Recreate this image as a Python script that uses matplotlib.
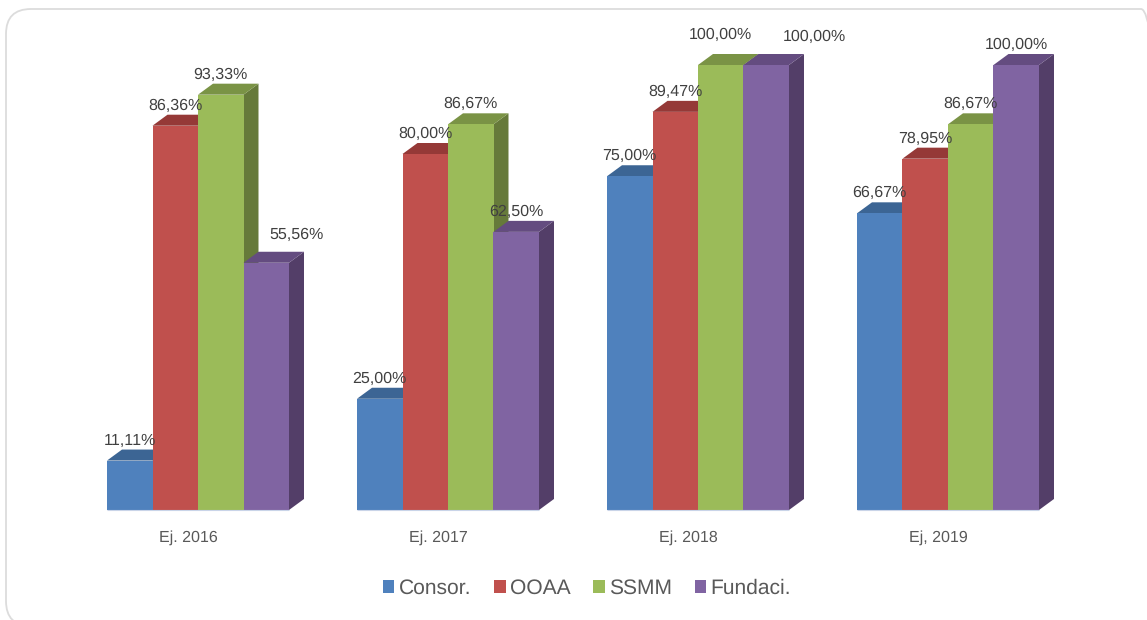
import matplotlib
matplotlib.use("Agg")
import matplotlib.pyplot as pl
import numpy as np
from matplotlib.patches import FancyBboxPatch, Patch, Polygon

pl.rcParams["font.family"] = ["Liberation Sans", "DejaVu Sans"]
pl.rcParams["text.hinting"] = "no_hinting"
pl.rcParams["text.hinting_factor"] = 1

# data
years = ["Ej. 2016", "Ej. 2017", "Ej. 2018", "Ej, 2019"]
names = ["Consor.", "OOAA", "SSMM", "Fundaci."]
consor = [11.11, 25.00, 75.00, 66.67]
ooaa = [86.36, 80.00, 89.47, 78.95]
ssmm = [93.33, 86.67, 100.00, 86.67]
fundaci = [55.56, 62.50, 100.00, 100.00]

# front, top, side
colours = [("#4F81BD", "#3C6594", "#39608D"),
           ("#C0504D", "#953937", "#8C3836"),
           ("#9BBB59", "#7A9345", "#667A3A"),
           ("#8064A2", "#644C80", "#533E68")]

W, H = 1147, 620
fig = pl.figure(figsize=(W/100, H/100), dpi=100)
fig.patch.set_facecolor("white")

# outer frame of the chart, in pixels
frame = FancyBboxPatch((6, -6), 1160, 617, boxstyle="round,pad=0,rounding_size=25",
                       mutation_scale=1, transform=None, fc="none", ec="#DCDCDC", lw=1.3, zorder=-1)
fig.add_artist(frame)

# axes fill the figure, scale: 250 px per group, 4.45 px per percent
ax = fig.add_axes([0, 0, 1, 1])
ax.set_xlim(-198/250, (W-198)/250)
ax.set_ylim(-110/4.45, 510/4.45)
ax.axis("off")

bar_w = 45.5/250
dx = 15/250   # depth of the fake 3d
dy = 11/4.45
x = np.arange(len(years))

for j, vals in enumerate([consor, ooaa, ssmm, fundaci]):
    front, top, side = colours[j]
    for i, v in enumerate(vals):
        x0 = x[i] + (j-2)*bar_w
        x1 = x0 + bar_w
        z = 2 + j
        ax.add_patch(Polygon([(x1, 0), (x1+dx, dy), (x1+dx, v+dy), (x1, v)], fc=side, ec="none", zorder=z))
        ax.add_patch(Polygon([(x0, v), (x0+dx, v+dy), (x1+dx, v+dy), (x1, v)], fc=top, ec="none", zorder=z))
        ax.bar(x0, v, bar_w, align="edge", color=front, lw=0, zorder=z)

# light base line under each group
for i in x:
    ax.plot([i-2*bar_w, i+2*bar_w], [0, 0], color="#C9D4E8", lw=0.8, zorder=7, solid_capstyle="butt")

# value labels, some of them do not sit right on top of the bar
for j, vals in enumerate([consor, ooaa, ssmm, fundaci]):
    for i, v in enumerate(vals):
        xc = x[i] + (j-1.5)*bar_w
        ox, oy = 0, 20
        if j == 3 and i == 0:
            ox, oy = 30, 28
        if j == 3 and i == 2:
            ox, oy = 48, 28
        if j == 2 and i == 2:
            oy = 30
        ax.annotate(("%.2f" % v).replace(".", ",") + "%", (xc, v),
                    xytext=(ox*0.72, oy*0.72), textcoords="offset points",
                    ha="center", va="center", fontsize=11.3, color="#404040", zorder=10)

# category labels
for i, name in enumerate(years):
    ax.annotate(name, (x[i], 0), xytext=(-10*0.72, -28*0.72), textcoords="offset points",
                ha="center", va="center", fontsize=11.3, color="#595959", zorder=10)

handles = [Patch(fc=colours[j][0], ec="none", label=names[j]) for j in range(4)]
ax.legend(handles=handles, loc="center", bbox_to_anchor=(587/W, 1-588.5/H), ncol=4, frameon=False,
          fontsize=15.0, labelcolor="#595959", handlelength=0.55, handleheight=0.55,
          handletextpad=0.2, columnspacing=1.1, borderpad=0, borderaxespad=0)

pl.savefig("out.png", dpi=100)
pl.clf()
